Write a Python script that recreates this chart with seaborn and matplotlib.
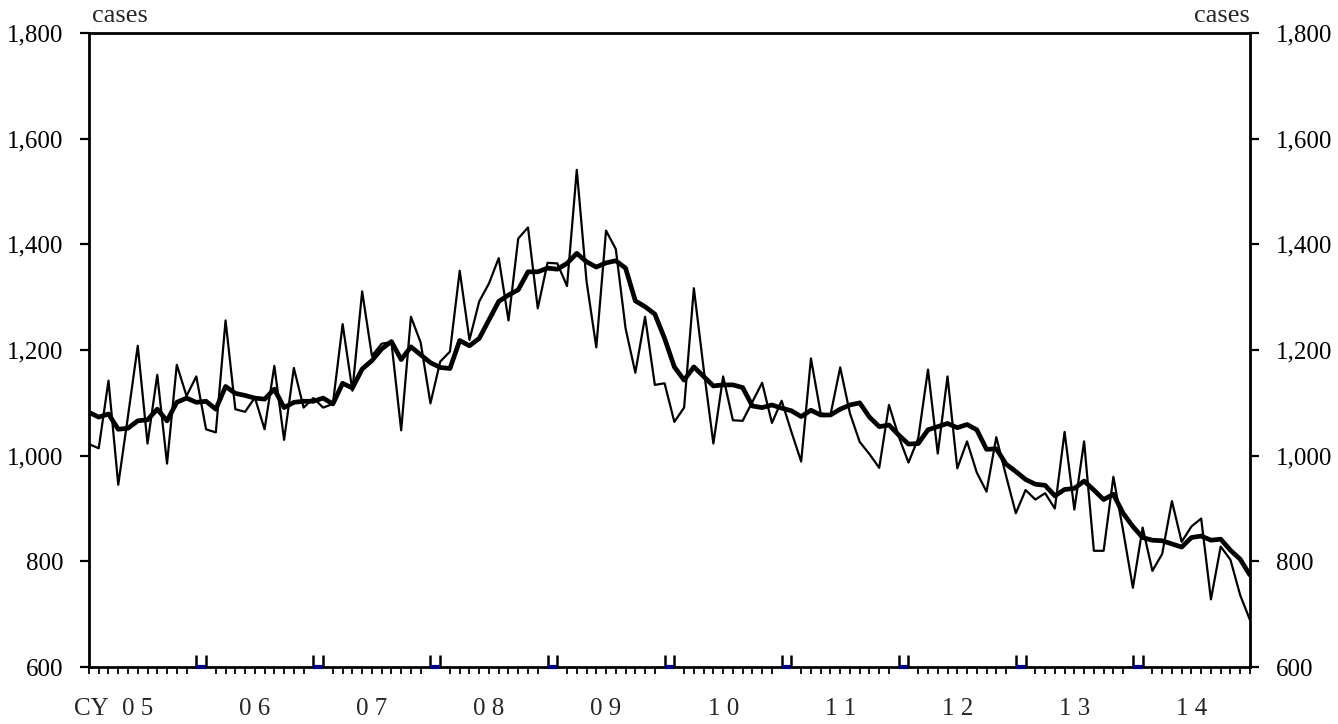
import numpy as np
import pandas as pd
import seaborn as sns
import matplotlib.pyplot as plt
from matplotlib.ticker import FuncFormatter

# monthly counts, Jan 2005 - Dec 2014
monthly = [1022, 1014, 1142, 945, 1075, 1208, 1023, 1153, 985, 1172, 1113, 1150,
           1050, 1044, 1256, 1088, 1083, 1110, 1050, 1170, 1030, 1166, 1091, 1109,
           1091, 1098, 1249, 1123, 1311, 1189, 1212, 1215, 1048, 1263, 1214, 1099,
           1178, 1197, 1350, 1219, 1292, 1326, 1374, 1256, 1411, 1432, 1279, 1365,
           1364, 1321, 1541, 1330, 1205, 1426, 1391, 1241, 1157, 1263, 1134, 1137,
           1064, 1091, 1317, 1165, 1023, 1150, 1067, 1066, 1102, 1138, 1062, 1104,
           1045, 989, 1184, 1080, 1077, 1167, 1080, 1026, 1003, 977, 1096, 1036,
           987, 1033, 1163, 1004, 1150, 976, 1027, 968, 932, 1035, 962, 891,
           935, 917, 929, 900, 1045, 898, 1027, 820, 820, 960, 858, 750,
           864, 782, 814, 914, 837, 866, 881, 728, 828, 803, 736, 689]

# smoothed (thick) series
trend = [1082, 1073, 1079, 1050, 1052, 1066, 1068, 1088, 1066, 1101, 1109, 1101,
         1103, 1088, 1131, 1118, 1114, 1109, 1107, 1126, 1091, 1101, 1103, 1103,
         1109, 1098, 1137, 1128, 1164, 1180, 1202, 1216, 1182, 1206, 1191, 1176,
         1167, 1165, 1218, 1208, 1222, 1257, 1292, 1304, 1314, 1348, 1348, 1355,
         1353, 1364, 1383, 1367, 1357, 1365, 1369, 1355, 1293, 1282, 1268, 1222,
         1168, 1143, 1168, 1150, 1132, 1134, 1134, 1129, 1094, 1091, 1096, 1090,
         1085, 1074, 1086, 1077, 1077, 1088, 1096, 1100, 1073, 1055, 1058, 1039,
         1022, 1023, 1049, 1055, 1061, 1053, 1059, 1049, 1012, 1013, 984, 970,
         955, 946, 944, 924, 936, 938, 952, 935, 917, 927, 891, 866,
         845, 840, 839, 833, 827, 845, 848, 840, 842, 821, 804, 774]

year_labels = ['0 5', '0 6', '0 7', '0 8', '0 9', '1 0', '1 1', '1 2', '1 3', '1 4']
y_ticks = [600, 800, 1000, 1200, 1400, 1600, 1800]

df = pd.DataFrame({'month': np.arange(len(monthly)), 'monthly': monthly, 'trend': trend})

sns.set_style('white')
plt.rcParams['font.family'] = ['Liberation Serif', 'DejaVu Serif']

fig = plt.figure(figsize=(13.38, 7.24), dpi=100)
ax = fig.add_axes([0.0665, 0.0787, 0.8677, 0.8757])

sns.lineplot(data=df, x='month', y='monthly', color='black', linewidth=1.6, ax=ax)
sns.lineplot(data=df, x='month', y='trend', color='black', linewidth=3.4, ax=ax)

n = len(monthly)
ax.set_xlim(0, n - 1)
ax.set_ylim(y_ticks[0], y_ticks[-1])
ax.set_xlabel('')
ax.set_ylabel('')

for s in ax.spines.values():
    s.set_color('black')
    s.set_linewidth(2)

# y axis on both sides
ax.set_yticks(y_ticks)
ax.yaxis.set_major_formatter(FuncFormatter(lambda v, p: f'{v:,.0f}'))
ax.tick_params(axis='y', direction='out', length=6.5, width=1.6, pad=12,
               labelsize=18, left=True, right=True, labelleft=True, labelright=True,
               colors='black')

# x axis: month ticks below, double ticks at year changes above
bounds = []
for k in range(1, len(year_labels)):
    bounds += [12 * k - 1, 12 * k]
ax.set_xticks(bounds)
ax.set_xticklabels([])
ax.set_xticks(np.arange(n), minor=True)
ax.tick_params(axis='x', which='major', direction='in', length=8.5, width=1.8,
               bottom=True, colors='black')
ax.tick_params(axis='x', which='minor', direction='out', length=5, width=1.3,
               bottom=True, colors='black')

for k in range(1, len(year_labels)):
    ax.plot([12 * k - 1, 12 * k], [y_ticks[0], y_ticks[0]], color='#000080',
            linewidth=3, solid_capstyle='butt', clip_on=False, zorder=5)

tr = ax.get_xaxis_transform()
for k, lab in enumerate(year_labels):
    ax.text(12 * k + 5, -0.066, lab, transform=tr, ha='center', va='center', fontsize=18)
ax.text(2.0, -0.066, 'CY', transform=tr, ha='right', va='center', fontsize=18)

ax.text(0.003, 1.01, 'cases', transform=ax.transAxes, ha='left', va='bottom', fontsize=19)
ax.text(1.0, 1.01, 'cases', transform=ax.transAxes, ha='right', va='bottom', fontsize=19)

fig.savefig('out.png', dpi=100)
